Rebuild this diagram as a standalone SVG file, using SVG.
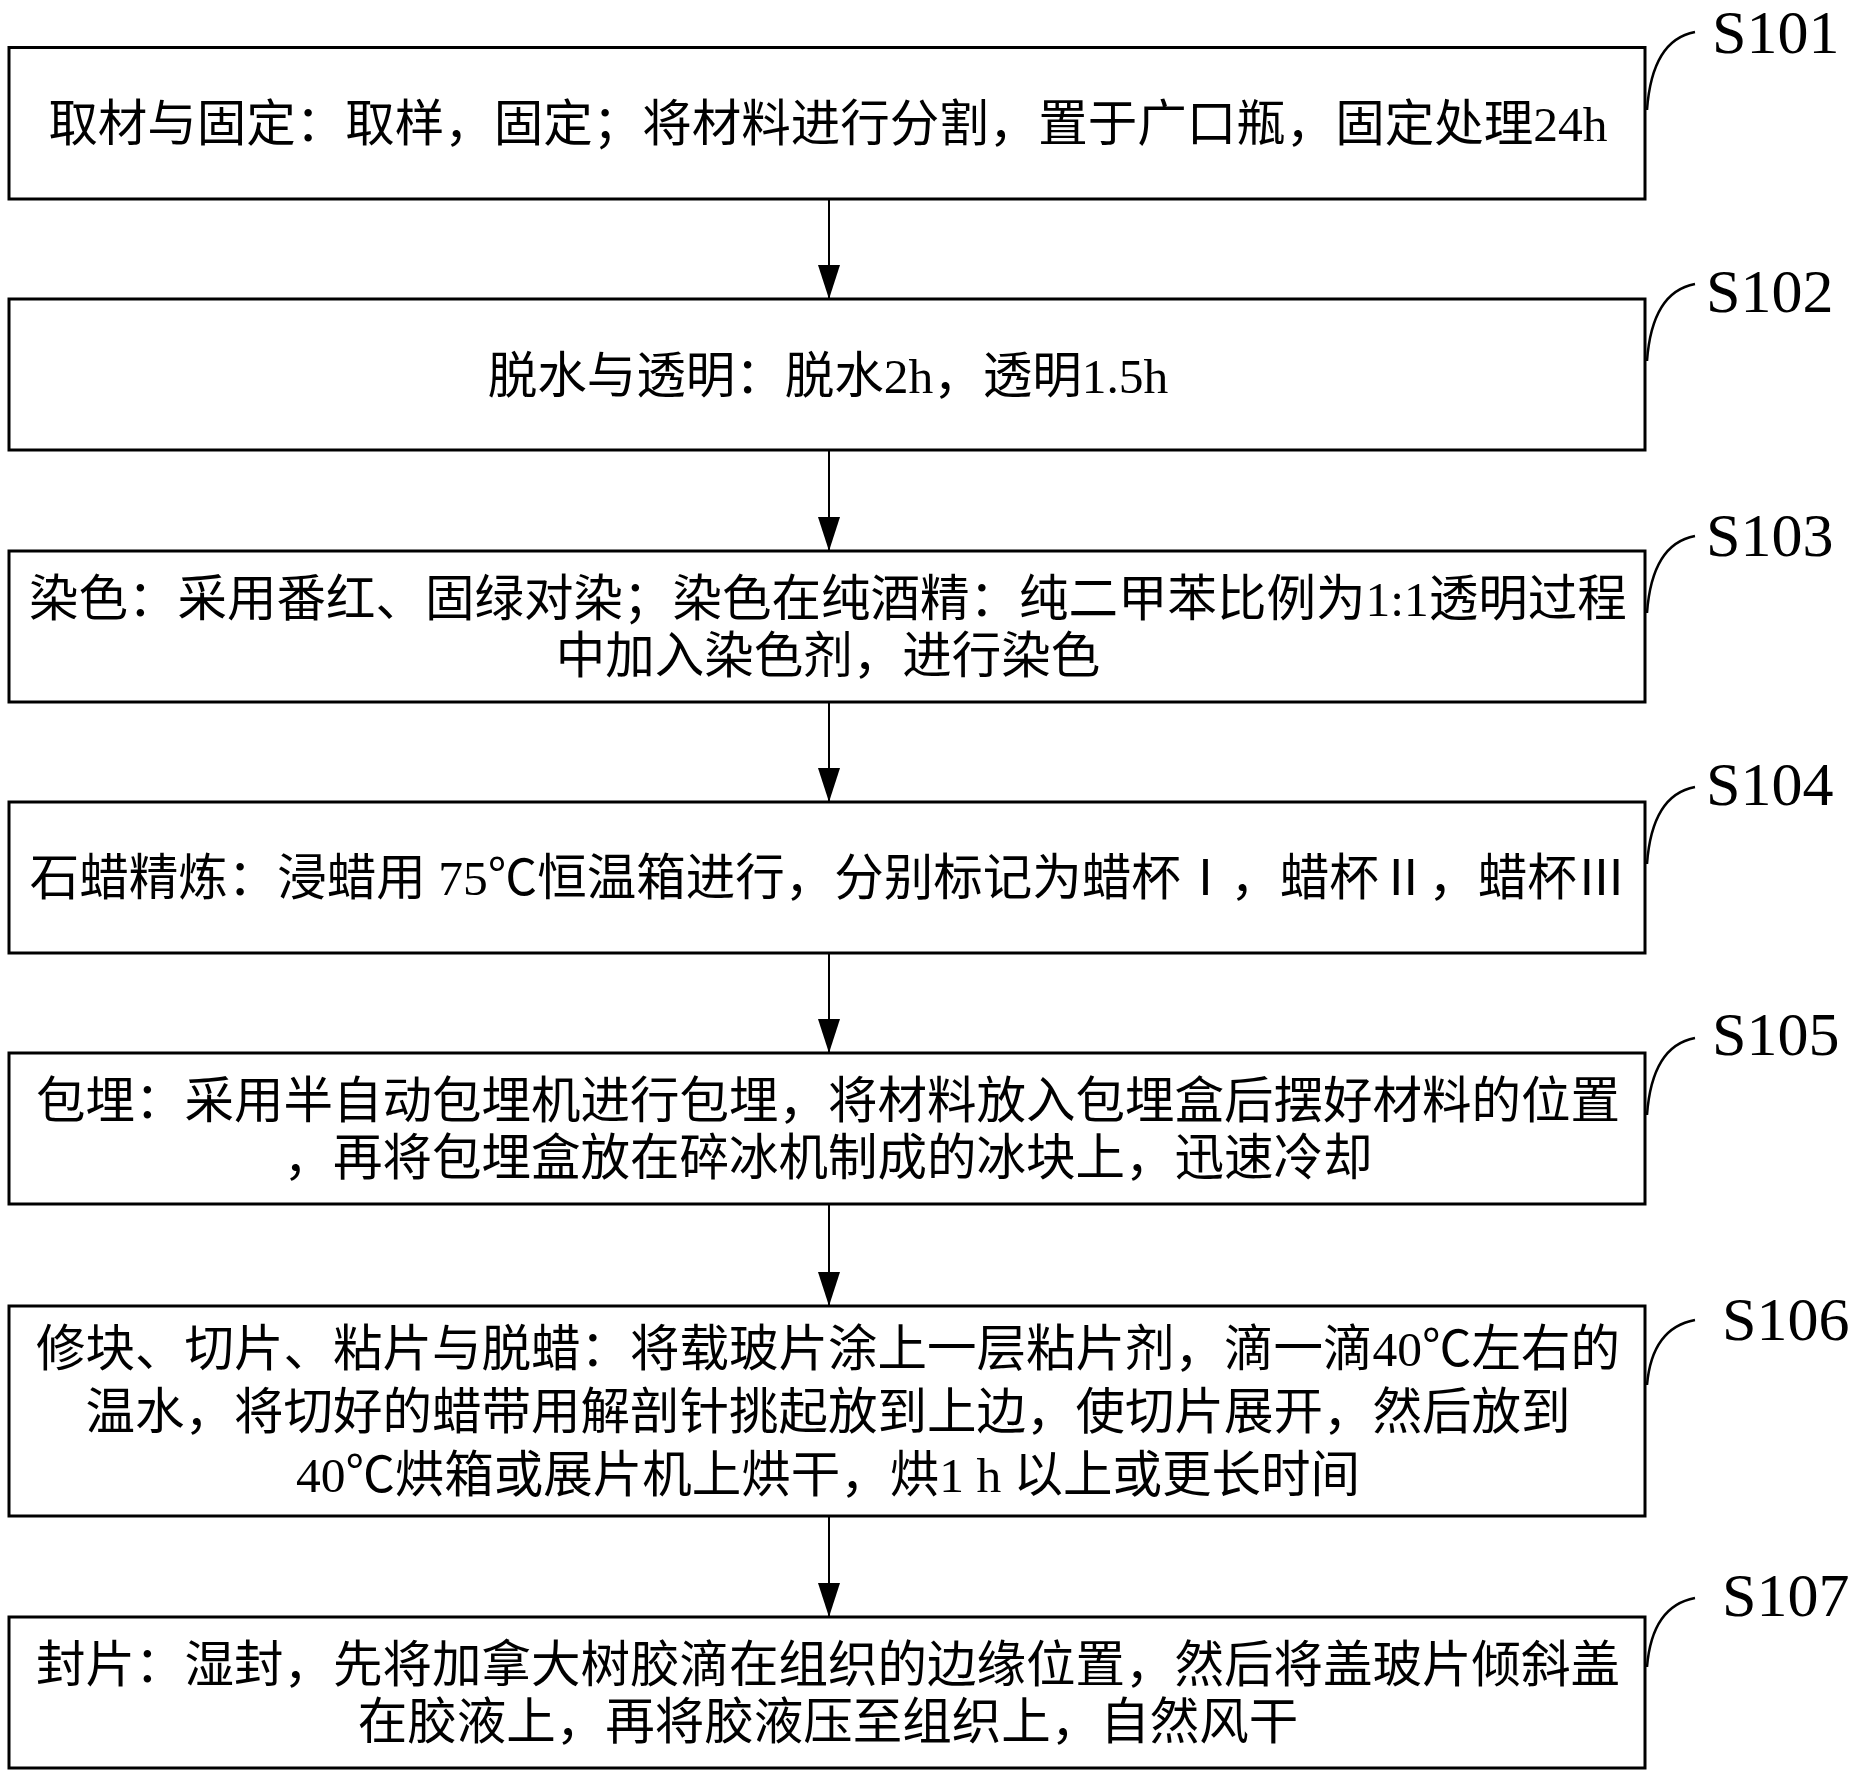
<svg xmlns="http://www.w3.org/2000/svg" width="1858" height="1777" viewBox="0 0 1858 1777">
<style>
.box{fill:#fff;stroke:#000;stroke-width:3}
.t{font-family:'Liberation Serif','Noto Sans CJK SC',serif;font-size:49.5px;fill:#000;text-anchor:middle}
.lbl{font-family:'Liberation Serif',serif;font-size:62px;fill:#000}
.lead{fill:none;stroke:#000;stroke-width:2.5}
.arr{fill:none;stroke:#000;stroke-width:2}
</style>
<defs>
<marker id="ah" markerUnits="userSpaceOnUse" viewBox="0 0 34 22" refX="34" refY="11" markerWidth="34" markerHeight="22" orient="auto">
<path d="M0,0 L34,11 L0,22 z" fill="#000"/>
</marker>
</defs>
<rect width="1858" height="1777" fill="#fff"/>
<g id="connectors">
<line class="arr" x1="829" y1="199" x2="829" y2="299" marker-end="url(#ah)"/>
<line class="arr" x1="829" y1="450" x2="829" y2="551" marker-end="url(#ah)"/>
<line class="arr" x1="829" y1="702" x2="829" y2="802" marker-end="url(#ah)"/>
<line class="arr" x1="829" y1="953" x2="829" y2="1053" marker-end="url(#ah)"/>
<line class="arr" x1="829" y1="1204" x2="829" y2="1306" marker-end="url(#ah)"/>
<line class="arr" x1="829" y1="1516" x2="829" y2="1617" marker-end="url(#ah)"/>
</g>
<g id="S101">
<rect class="box" x="9" y="47.5" width="1636" height="151.5"/>
<text class="t" x="828" y="141">取材与固定：取样，固定；将材料进行分割，置于广口瓶，固定处理24h</text>
<path class="lead" d="M1647,110 Q1652,40 1695,32"/>
<text class="lbl" x="1712" y="53">S101</text>
</g>
<g id="S102">
<rect class="box" x="9" y="299" width="1636" height="151"/>
<text class="t" x="828" y="393">脱水与透明：脱水2h，透明1.5h</text>
<path class="lead" d="M1647,361 Q1652,292 1695,284"/>
<text class="lbl" x="1706" y="312">S102</text>
</g>
<g id="S103">
<rect class="box" x="9" y="551" width="1636" height="151"/>
<text class="t" x="828" y="616">染色：采用番红、固绿对染；染色在纯酒精：纯二甲苯比例为1:1透明过程</text>
<text class="t" x="828" y="673">中加入染色剂，进行染色</text>
<path class="lead" d="M1647,613 Q1652,544 1695,536"/>
<text class="lbl" x="1706" y="556">S103</text>
</g>
<g id="S104">
<rect class="box" x="9" y="802" width="1636" height="151"/>
<text class="t" x="828" y="895">石蜡精炼：浸蜡用 75℃恒温箱进行，分别标记为蜡杯Ⅰ，蜡杯Ⅱ，蜡杯Ⅲ</text>
<path class="lead" d="M1647,864 Q1652,795 1695,787"/>
<text class="lbl" x="1706" y="805">S104</text>
</g>
<g id="S105">
<rect class="box" x="9" y="1053" width="1636" height="151"/>
<text class="t" x="828" y="1118">包埋：采用半自动包埋机进行包埋，将材料放入包埋盒后摆好材料的位置</text>
<text class="t" x="828" y="1175">，再将包埋盒放在碎冰机制成的冰块上，迅速冷却</text>
<path class="lead" d="M1647,1115 Q1652,1046 1695,1038"/>
<text class="lbl" x="1712" y="1055">S105</text>
</g>
<g id="S106">
<rect class="box" x="9" y="1306" width="1636" height="210"/>
<text class="t" x="828" y="1366">修块、切片、粘片与脱蜡：将载玻片涂上一层粘片剂，滴一滴40℃左右的</text>
<text class="t" x="828" y="1429">温水，将切好的蜡带用解剖针挑起放到上边，使切片展开，然后放到</text>
<text class="t" x="828" y="1492">40℃烘箱或展片机上烘干，烘1 h 以上或更长时间</text>
<path class="lead" d="M1647,1385 Q1652,1328 1695,1320"/>
<text class="lbl" x="1722" y="1340">S106</text>
</g>
<g id="S107">
<rect class="box" x="9" y="1617" width="1636" height="151"/>
<text class="t" x="828" y="1682">封片：湿封，先将加拿大树胶滴在组织的边缘位置，然后将盖玻片倾斜盖</text>
<text class="t" x="828" y="1739">在胶液上，再将胶液压至组织上，自然风干</text>
<path class="lead" d="M1647,1667 Q1652,1606 1695,1598"/>
<text class="lbl" x="1722" y="1616">S107</text>
</g>
</svg>
